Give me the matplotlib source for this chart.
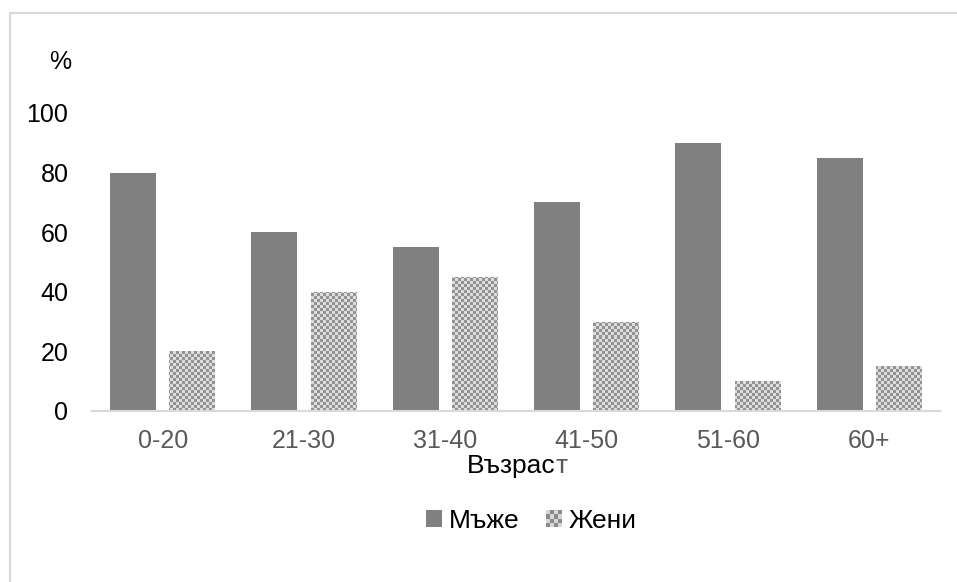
import numpy as np
import matplotlib
matplotlib.use("Agg")
import matplotlib.pyplot as plt
from matplotlib.patches import Rectangle, Patch
from matplotlib.legend_handler import HandlerPatch

plt.rcParams['font.family'] = ['Liberation Sans', 'DejaVu Sans']

# Age groups and share (%) of men and women
age_groups = ["0-20", "21-30", "31-40", "41-50", "51-60", "60+"]
men = [80, 60, 55, 70, 90, 85]
women = [20, 40, 45, 30, 10, 15]
y_ticks = [0, 20, 40, 60, 80, 100]

W, H = 957, 582
fig = plt.figure(figsize=(W / 100, H / 100), dpi=100)

# light frame around the chart area
fig.patches.append(Rectangle((10 / W, 0 - 0.05), 1.2, 1 - 13 / H + 0.05,
                             transform=fig.transFigure, fill=False,
                             edgecolor="#d9d9d9", linewidth=1.5, zorder=0))

ax_left, ax_right = 92 / W, 940 / W
ax_bottom, ax_top = 1 - 411 / H, 1 - 113 / H
ax = fig.add_axes([ax_left, ax_bottom, ax_right - ax_left, ax_top - ax_bottom])

x = np.arange(len(age_groups))
bw = 0.325
off = 0.21
bars_m = ax.bar(x - off, men, bw, color="#808080", zorder=2)
bars_w = ax.bar(x + off, women, bw, color="none", zorder=2)

# checkerboard texture for the women's bars
ax_w_px = (ax_right - ax_left) * W
ax_h_px = (ax_top - ax_bottom) * H
cell = 3
nx, ny = int(ax_w_px / cell) + 1, int(ax_h_px / cell) + 1
ii, jj = np.meshgrid(np.arange(nx), np.arange(ny))
tex = np.where((ii + jj) % 2 == 0, 0.58, 0.87)
rgb = np.dstack([tex, tex, tex])
for b in bars_w:
    im = ax.imshow(rgb, extent=[0, nx * cell / ax_w_px, 0, ny * cell / ax_h_px],
                   transform=ax.transAxes, interpolation="nearest",
                   aspect="auto", zorder=1.5)
    im.set_clip_path(b)

ax.set_xlim(-0.5, len(age_groups) - 0.5)
ax.set_ylim(0, 100)
ax.set_xticks(x)
ax.set_xticklabels(age_groups, fontsize=18, color="#595959")
ax.set_yticks(y_ticks)
ax.set_yticklabels([str(v) for v in y_ticks], fontsize=18, color="#000000")
ax.tick_params(axis="both", length=0)
ax.tick_params(axis="x", pad=13)
ax.tick_params(axis="y", pad=17)
for s in ["top", "right", "left"]:
    ax.spines[s].set_visible(False)
ax.spines["bottom"].set_color("#d9d9d9")
ax.spines["bottom"].set_linewidth(1.5)
ax.set_facecolor("none")

fig.text(60 / W, 1 - 62 / H, "%", fontsize=18, ha="center", va="center")

# axis title: last letter drawn in gray
t1 = fig.text(467 / W, 1 - 466 / H, "Възрас", fontsize=19, ha="left", va="center")
fig.canvas.draw()
bb = t1.get_window_extent()
fig.text(bb.x1 / W, 1 - 466 / H, "т", fontsize=19, ha="left", va="center",
         color="#595959")

# legend with a solid and a textured swatch
class TexHandler(HandlerPatch):
    def create_artists(self, legend, orig_handle, xdescent, ydescent,
                       width, height, fontsize, trans):
        arts = []
        n = 4
        s = width / n
        for i in range(n):
            for j in range(n):
                c = "#8a8a8a" if (i + j) % 2 == 0 else "#d6d6d6"
                arts.append(Rectangle((-xdescent + i * s, -ydescent + j * height / n),
                                      s, height / n, facecolor=c, edgecolor="none",
                                      transform=trans))
        return arts

h_m = Patch(facecolor="#808080", edgecolor="none")
h_w = Patch(facecolor="#b0b0b0", edgecolor="none")
fig.legend([h_m, h_w], ["Мъже", "Жени"], loc="center",
           bbox_to_anchor=(531 / W, 1 - 521 / H), ncol=2, frameon=False,
           fontsize=19, handlelength=0.62, handleheight=0.62,
           handletextpad=0.25, columnspacing=1.0,
           handler_map={h_w: TexHandler()})

fig.savefig("out.png", dpi=100)
